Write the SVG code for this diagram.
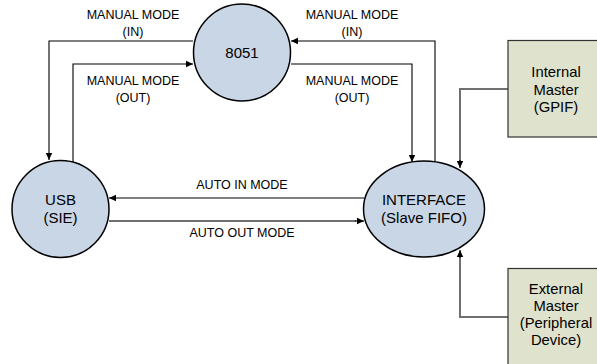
<svg xmlns="http://www.w3.org/2000/svg" width="597" height="364" viewBox="0 0 597 364">
<defs>
<marker id="ah" markerWidth="8" markerHeight="8" refX="7" refY="4" orient="auto" markerUnits="userSpaceOnUse">
<path d="M0,0.8 L7,4 L0,7.2 Z" fill="#000"/>
</marker>
<style>
.node{fill:#c8d6e6;stroke:#000;stroke-width:1.5}
.box{fill:#dfe2cd;stroke:#333;stroke-width:1.2}
.t{font-family:"Liberation Sans",Arial,sans-serif;fill:#000;text-anchor:middle}
.nt{font-size:15px}
.lt{font-size:12.5px}
.bt{font-size:14.8px}
.c{fill:none;stroke:#000;stroke-width:1.1}
.g{fill:none;stroke:#707070;stroke-width:2}
</style>
</defs>
<rect width="597" height="364" fill="#fff"/>
<g id="connectors">
<polyline class="c" points="193,41 49,41 49,160" marker-end="url(#ah)"/>
<polyline class="c" points="73,162 73,64 193,64" marker-end="url(#ah)"/>
<polyline class="c" points="435,162 435,41 291,41" marker-end="url(#ah)"/>
<polyline class="c" points="291,64 412,64 412,162" marker-end="url(#ah)"/>
<polyline class="c" points="364,198 109,198" marker-end="url(#ah)"/>
<polyline class="g" points="109,221 356,221"/>
<polyline class="c" points="355,221 364,221" marker-end="url(#ah)"/>
<polyline class="g" points="508,89 460,89 460,162"/>
<polyline class="c" points="460,160 460,168" marker-end="url(#ah)"/>
<polyline class="g" points="508,317 460,317 460,256"/>
<polyline class="c" points="460,258 460,250" marker-end="url(#ah)"/>
<text class="t lt" x="133" y="19">MANUAL MODE</text>
<text class="t lt" x="133" y="36">(IN)</text>
<text class="t lt" x="133" y="85">MANUAL MODE</text>
<text class="t lt" x="133" y="102">(OUT)</text>
<text class="t lt" x="352" y="19">MANUAL MODE</text>
<text class="t lt" x="352" y="36">(IN)</text>
<text class="t lt" x="352" y="85">MANUAL MODE</text>
<text class="t lt" x="352" y="102">(OUT)</text>
<text class="t lt" x="242" y="189">AUTO IN MODE</text>
<text class="t lt" x="242" y="237">AUTO OUT MODE</text>
</g>
<g id="n8051">
<circle class="node" cx="242" cy="52.5" r="48.5"/>
<text class="t nt" x="242" y="58">8051</text>
</g>
<g id="usb">
<circle class="node" cx="60.5" cy="209" r="48.5"/>
<text class="t nt" x="60.5" y="205">USB</text>
<text class="t nt" x="60.5" y="223">(SIE)</text>
</g>
<g id="interface">
<ellipse class="node" cx="424" cy="209" rx="60.5" ry="48"/>
<text class="t nt" x="424" y="205">INTERFACE</text>
<text class="t nt" x="424" y="223">(Slave FIFO)</text>
</g>
<g id="internal">
<rect class="box" x="508" y="40.5" width="100" height="96.5"/>
<text class="t bt" x="556" y="77">Internal</text>
<text class="t bt" x="556" y="94.5">Master</text>
<text class="t bt" x="556" y="112">(GPIF)</text>
</g>
<g id="external">
<rect class="box" x="508" y="268.5" width="100" height="110"/>
<text class="t bt" x="556" y="294">External</text>
<text class="t bt" x="556" y="311">Master</text>
<text class="t bt" x="556" y="328">(Peripheral</text>
<text class="t bt" x="556" y="345">Device)</text>
</g>
</svg>
